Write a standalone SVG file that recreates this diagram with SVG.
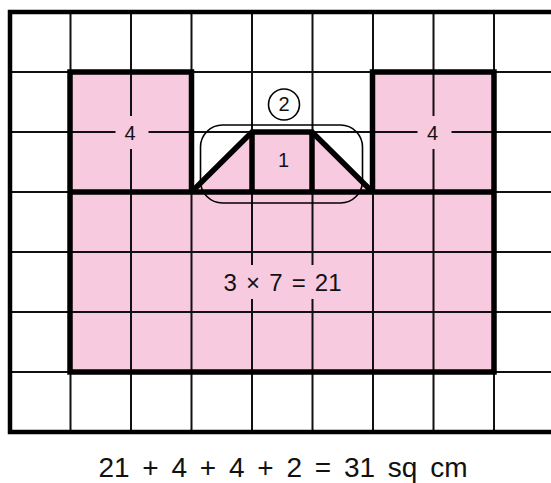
<svg xmlns="http://www.w3.org/2000/svg" width="551" height="483" viewBox="0 0 551 483">
<style>
.pink{fill:#F8CADF;stroke:none}
.grid{stroke:#111;stroke-width:2;fill:none}
.thick{stroke:#000;stroke-width:5.5;fill:none;stroke-linejoin:miter}
.border{stroke:#000;stroke-width:4.5;fill:none}
.thin{stroke:#000;stroke-width:1.6;fill:none}
.lbl{font-family:"Liberation Sans",Arial,Helvetica,sans-serif;fill:#111;text-anchor:middle}
.bg{fill:#F8CADF;stroke:none}
</style>
<rect width="551" height="483" fill="#fff"/>
<g id="shape-fill">
<rect class="pink" x="70" y="72" width="121.5" height="120"/>
<rect class="pink" x="372.5" y="72" width="121.5" height="120"/>
<rect class="pink" x="70" y="192" width="424" height="180"/>
<polygon class="pink" points="191.5,192 252,132 312,132 372.5,192"/>
</g>
<g id="grid">
<path class="grid" d="M70.5,12V432M131,12V432M191.5,12V432M252,12V432M312.5,12V432M373,12V432M433.5,12V432M494,12V432M10,72H555M10,132H555M10,192H555M10,252H555M10,312H555M10,372H555"/>
<rect class="border" x="10" y="12" width="545" height="420"/>
</g>
<g id="label-bgs">
<rect class="bg" x="115.5" y="116" width="33" height="33"/>
<rect class="bg" x="417.5" y="116" width="34" height="33"/>
<rect class="bg" x="217" y="265" width="130" height="34"/>
</g>
<g id="outline">
<path class="thick" d="M191.5,192V72H70V372H494V72H372.5V192"/>
<path class="thick" d="M70,192H494"/>
<path class="thick" d="M191.5,192L252,132H312L372.5,192"/>
<path class="thick" d="M252,132V192M312,132V192"/>
</g>
<g id="node-left-tower">
<text class="lbl" x="130" y="139.5" font-size="20">4</text>
</g>
<g id="node-right-tower">
<text class="lbl" x="432.5" y="139.5" font-size="20">4</text>
</g>
<g id="node-middle">
<text class="lbl" x="283.5" y="167" font-size="20">1</text>
</g>
<g id="node-trapezoid">
<rect class="thin" x="200.5" y="125" width="162" height="78" rx="22" ry="22"/>
<circle class="thin" cx="284" cy="104.5" r="15.5"/>
<text class="lbl" x="284" y="111" font-size="20">2</text>
</g>
<g id="node-base">
<text class="lbl" x="282.5" y="291" font-size="24" word-spacing="2.5">3 × 7 = 21</text>
</g>
<g id="caption">
<text class="lbl" x="283" y="477" font-size="28" word-spacing="5">21 + 4 + 4 + 2 = 31 sq cm</text>
</g>
</svg>
